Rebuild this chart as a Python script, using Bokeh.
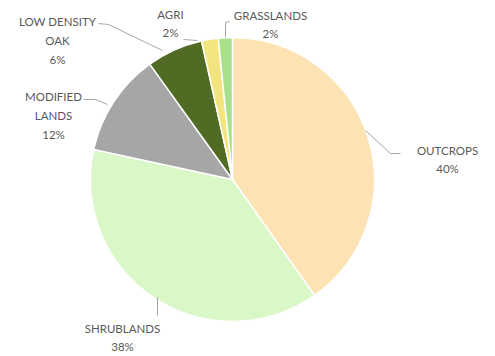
import math
from bokeh.plotting import figure
from bokeh.models import Range1d, ColumnDataSource
from bokeh.core.properties import value
from bokeh.embed import file_html
from bokeh.resources import INLINE

# ---- data ----
categories = ["OUTCROPS", "SHRUBLANDS", "MODIFIED\nLANDS", "LOW DENSITY\nOAK", "AGRI", "GRASSLANDS"]
shares = [40.2, 38.2, 11.7, 6.4, 1.9, 1.6]
colors = ["#FDE3B4", "#DAF7C8", "#A6A6A6", "#4F6B24", "#F2E47E", "#A9E08C"]

# ---- layout (image pixel coordinates) ----
W, H = 495, 356
OFF = 0
cx, cy, R = 232, 179, 142
label_pos = [(447, 159), (122, 337), (53, 115), (57, 40), (170, 23), (270, 24)]
leaders = [
    [(365, 130), (390, 153), (400, 153)],
    [(157, 297), (157, 315)],
    [(83, 99), (95, 99), (107, 104)],
    [(98, 23), (108, 24), (162, 50)],
    [(183, 39), (197, 40)],
    [(229, 21), (225, 22), (225, 37)],
]

def X(x):
    return x - OFF

def Y(y):
    return H - (y - OFF)

p = figure(width=W, height=H, output_backend="svg", toolbar_location=None,
           x_range=Range1d(0, W), y_range=Range1d(0, H), min_border=0)
p.axis.visible = False
p.grid.visible = False
p.outline_line_color = None
p.background_fill_color = "white"
p.border_fill_color = "white"

total = sum(shares)
starts, ends = [], []
cum = 0.0
for s in shares:
    starts.append(math.pi / 2 - 2 * math.pi * cum / total)
    cum += s
    ends.append(math.pi / 2 - 2 * math.pi * cum / total)

src = ColumnDataSource(dict(x=[X(cx)] * len(shares), y=[Y(cy)] * len(shares),
                            start=starts, end=ends, color=colors))
p.wedge(x="x", y="y", radius=R, radius_units="screen", start_angle="start", end_angle="end",
        direction="clock", fill_color="color", line_color="white", line_width=1.5, source=src)

for pts in leaders:
    p.line([X(q[0]) for q in pts], [Y(q[1]) for q in pts], line_color="#A6A6A6", line_width=1)

texts = [f"{c}\n{round(s / total * 100)}%" for c, s in zip(categories, shares)]
tsrc = ColumnDataSource(dict(x=[X(q[0]) for q in label_pos], y=[Y(q[1]) for q in label_pos], t=texts))
p.text(x="x", y="y", text="t", source=tsrc, text_align="center", text_baseline="middle",
       text_font=value("Lato"), text_font_size="11.5px", text_color="#595959",
       text_line_height=1.45)

open("out.html", "w").write(file_html(p, INLINE))
